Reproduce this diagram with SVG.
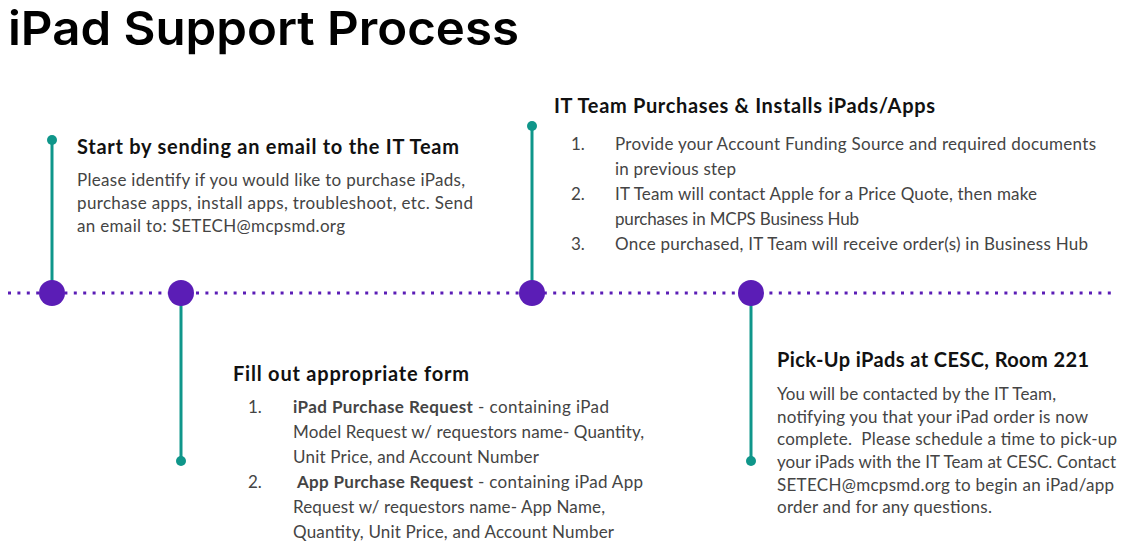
<svg xmlns="http://www.w3.org/2000/svg" width="1127" height="555" viewBox="0 0 1127 555">
<style>
.title{font-family:Inter,"Liberation Sans",sans-serif;font-weight:600;font-size:47px;fill:#000}
.h{font-family:Lato,"Liberation Sans",sans-serif;font-weight:700;font-size:20px;fill:#111}
.b{font-family:Lato,"Liberation Sans",sans-serif;font-size:17px;fill:#444}
.bb{font-weight:700}
.stem{stroke:#0f968a;stroke-width:3;fill:none}
.tdot{fill:#0f968a}
.pdot{fill:#5b1db6}
</style>
<rect width="1127" height="555" fill="#fff"/>
<text class="title" x="8" y="45" textLength="511" lengthAdjust="spacingAndGlyphs">iPad Support Process</text>
<g id="connectors">
<line x1="8" y1="293" x2="1112" y2="293" stroke="#5b1db6" stroke-width="3" stroke-dasharray="3 6.4"/>
<line class="stem" x1="52" y1="140" x2="52" y2="293"/>
<line class="stem" x1="181" y1="293" x2="181" y2="461"/>
<line class="stem" x1="532" y1="126" x2="532" y2="293"/>
<line class="stem" x1="751" y1="293" x2="751" y2="461"/>
<circle class="tdot" cx="52" cy="140" r="5"/>
<circle class="tdot" cx="181" cy="461" r="5"/>
<circle class="tdot" cx="532" cy="126" r="5"/>
<circle class="tdot" cx="751" cy="461" r="5"/>
<circle class="pdot" cx="52" cy="293" r="13"/>
<circle class="pdot" cx="181" cy="293" r="13"/>
<circle class="pdot" cx="532" cy="293" r="13"/>
<circle class="pdot" cx="751" cy="293" r="13"/>
</g>
<g id="step1">
<text class="h" x="77" y="154" textLength="382">Start by sending an email to the IT Team</text>
<text class="b" x="77" y="186" textLength="388">Please identify if you would like to purchase iPads,</text>
<text class="b" x="77" y="209" textLength="396">purchase apps, install apps, troubleshoot, etc. Send</text>
<text class="b" x="77" y="232" textLength="268">an email to: SETECH@mcpsmd.org</text>
</g>
<g id="step2">
<text class="h" x="233" y="381" textLength="236">Fill out appropriate form</text>
<text class="b" x="248" y="413">1.</text>
<text class="b" x="293" y="413" textLength="316"><tspan class="bb">iPad Purchase Request</tspan> - containing iPad</text>
<text class="b" x="293" y="438" textLength="351">Model Request w/ requestors name- Quantity,</text>
<text class="b" x="293" y="463" textLength="246">Unit Price, and Account Number</text>
<text class="b" x="248" y="488">2.</text>
<text class="b" x="297" y="488" textLength="346"><tspan class="bb">App Purchase Request</tspan> - containing iPad App</text>
<text class="b" x="293" y="513" textLength="312">Request w/ requestors name- App Name,</text>
<text class="b" x="293" y="538" textLength="321">Quantity, Unit Price, and Account Number</text>
</g>
<g id="step3">
<text class="h" x="554" y="113" textLength="381">IT Team Purchases &amp; Installs iPads/Apps</text>
<text class="b" x="571" y="150">1.</text>
<text class="b" x="615" y="150" textLength="481">Provide your Account Funding Source and required documents</text>
<text class="b" x="615" y="175" textLength="121">in previous step</text>
<text class="b" x="571" y="200">2.</text>
<text class="b" x="615" y="200" textLength="422">IT Team will contact Apple for a Price Quote, then make</text>
<text class="b" x="615" y="225" textLength="244">purchases in MCPS Business Hub</text>
<text class="b" x="571" y="250">3.</text>
<text class="b" x="615" y="250" textLength="473">Once purchased, IT Team will receive order(s) in Business Hub</text>
</g>
<g id="step4">
<text class="h" x="777" y="367" textLength="312">Pick-Up iPads at CESC, Room 221</text>
<text class="b" x="777" y="400" textLength="279">You will be contacted by the IT Team,</text>
<text class="b" x="777" y="423" textLength="311">notifying you that your iPad order is now</text>
<text class="b" x="777" y="445" textLength="340" xml:space="preserve">complete.  Please schedule a time to pick-up</text>
<text class="b" x="777" y="468" textLength="339">your iPads with the IT Team at CESC. Contact</text>
<text class="b" x="777" y="491" textLength="337">SETECH@mcpsmd.org to begin an iPad/app</text>
<text class="b" x="777" y="513" textLength="215">order and for any questions.</text>
</g>
</svg>
